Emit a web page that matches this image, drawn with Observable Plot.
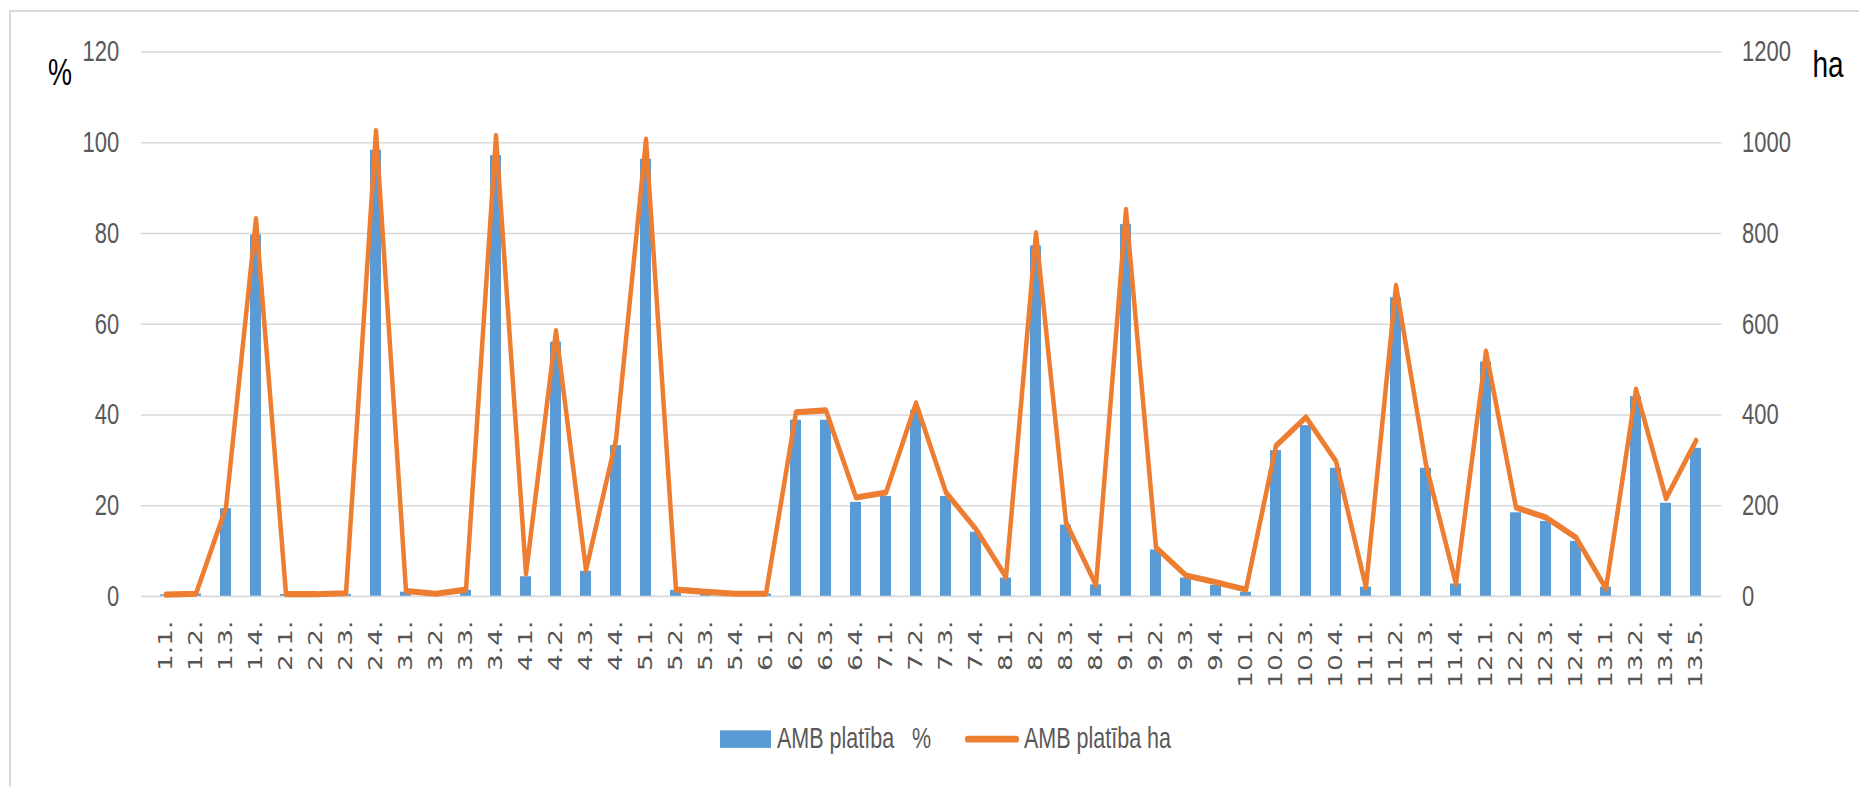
<!DOCTYPE html>
<html>
<head>
<meta charset="utf-8">
<script src="https://cdn.jsdelivr.net/npm/d3@7"></script>
<script src="https://cdn.jsdelivr.net/npm/@observablehq/plot@0.6"></script>
<style>
  html, body { margin: 0; padding: 0; background: #fff; width: 1859px; height: 787px; overflow: hidden; }
  #frame { position: absolute; left: 9px; top: 10px; width: 2000px; height: 1000px; border: 2.5px solid #d9d9d9; box-sizing: border-box; }
  #stage { position: absolute; left: 0; top: 0; width: 1859px; height: 583px; transform: scaleY(1.35); transform-origin: 0 0;
           font-family: "Liberation Sans", Arial, sans-serif; }
  #chart { position: absolute; left: 0; top: 0; }
  .unit { position: absolute; line-height: 1; color: #000; white-space: nowrap; }
  .lg-text { position: absolute; font-size: 21.5px; line-height: 1; color: #595959; white-space: pre; }
  .lg-bar { position: absolute; background: #5b9bd5; }
  .lg-line { position: absolute; background: #ed7d31; border-radius: 2px; }
</style>
</head>
<body>
<div id="frame"></div>
<div id="stage">
  <div id="chart"></div>
  <div class="unit" id="unitLeft" style="left:48px; top:40.8px; font-size:27px;"></div>
  <div class="unit" id="unitRight" style="left:1812.5px; top:34px; font-size:28px;"></div>
  <div class="lg-bar" style="left:719.8px; top:540.7px; width:51px; height:13.3px;"></div>
  <div class="lg-text" id="lg1" style="left:777px; top:536.6px;"></div>
  <div class="lg-line" style="left:964.6px; top:545.2px; width:54px; height:4.4px;"></div>
  <div class="lg-text" id="lg2" style="left:1024px; top:536.6px;"></div>
</div>
<script>
const categories = ["1.1.","1.2.","1.3.","1.4.","2.1.","2.2.","2.3.","2.4.","3.1.","3.2.","3.3.","3.4.",
  "4.1.","4.2.","4.3.","4.4.","5.1.","5.2.","5.3.","5.4.","6.1.","6.2.","6.3.","6.4.",
  "7.1.","7.2.","7.3.","7.4.","8.1.","8.2.","8.3.","8.4.","9.1.","9.2.","9.3.","9.4.",
  "10.1.","10.2.","10.3.","10.4.","11.1.","11.2.","11.3.","11.4.","12.1.","12.2.","12.3.","12.4.",
  "13.1.","13.2.","13.4.","13.5."];

// AMB platība, % (bars, left axis)
const pct = [0.3, 0.5, 19.3, 79.6, 0.4, 0.2, 0.4, 98.3, 0.9, 0.3, 1.3, 97.1,
  4.3, 56.0, 5.5, 33.2, 96.3, 1.3, 0.5, 0.3, 0.5, 38.8, 38.8, 20.7,
  22.0, 41.0, 22.0, 14.1, 4.0, 77.2, 15.7, 2.5, 81.9, 10.2, 4.0, 2.4,
  0.9, 32.1, 37.6, 28.2, 2.0, 65.8, 28.2, 2.7, 51.6, 18.4, 16.5, 12.1,
  2.0, 44.0, 20.5, 32.6];

// AMB platība, ha (line, right axis)
const ha = [4, 6, 196, 832, 5, 5, 7, 1026, 12, 6, 15, 1015,
  50, 585, 58, 345, 1007, 15, 10, 6, 6, 406, 410, 218,
  229, 426, 229, 148, 43, 801, 163, 25, 852, 108, 46, 31,
  15, 332, 395, 298, 20, 685, 290, 28, 540, 196, 174, 130,
  17, 456, 216, 343];

const leftTicks = [0, 20, 40, 60, 80, 100, 120];
const rightTicks = [0, 200, 400, 600, 800, 1000, 1200];
const seriesNames = ["AMB platība   %", "AMB platība ha"];
const unitLabels = ["%", "ha"];

const haPerPct = rightTicks[rightTicks.length - 1] / leftTicks[leftTicks.length - 1];
const data = categories.map((c, i) => ({cat: c, pct: pct[i], ha: ha[i]}));

const chart = Plot.plot({
  width: 1859,
  height: 583,
  marginLeft: 140.7,
  marginRight: 137.5,
  marginTop: 38,
  marginBottom: 141.7,
  style: {fontFamily: "'Liberation Sans', Arial, sans-serif", background: "transparent", overflow: "visible"},
  x: {domain: categories, paddingInner: 0.62, paddingOuter: 0.31, label: null},
  y: {domain: [leftTicks[0], leftTicks[leftTicks.length - 1]], label: null},
  marks: [
    Plot.gridY(leftTicks, {stroke: "#d9d9d9", strokeOpacity: 1, strokeWidth: 1.2}),
    Plot.barY(data, {x: "cat", y: "pct", fill: "#5b9bd5"}),
    Plot.lineY(data, {x: "cat", y: d => d.ha / haPerPct, stroke: "#ed7d31", strokeWidth: 4.5,
      strokeLinejoin: "round", strokeLinecap: "round"}),
    Plot.axisY(leftTicks, {anchor: "left", tickSize: 0, tickPadding: 22, fontSize: 22,
      color: "#595959", label: null}),
    Plot.axisY(leftTicks, {anchor: "right", tickSize: 0, tickPadding: 20, fontSize: 22,
      color: "#595959", tickFormat: d => String(Math.round(d * haPerPct)), label: null}),
    Plot.axisX({tickSize: 0, tickPadding: 18, tickRotate: -90, fontSize: 19.5,
      fontFamily: "'DejaVu Sans', Verdana, sans-serif", color: "#555555", label: null})
  ]
});
document.getElementById("chart").appendChild(chart);
document.getElementById("unitLeft").textContent = unitLabels[0];
document.getElementById("unitRight").textContent = unitLabels[1];
document.getElementById("lg1").textContent = seriesNames[0];
document.getElementById("lg2").textContent = seriesNames[1];
</script>
</body>
</html>
